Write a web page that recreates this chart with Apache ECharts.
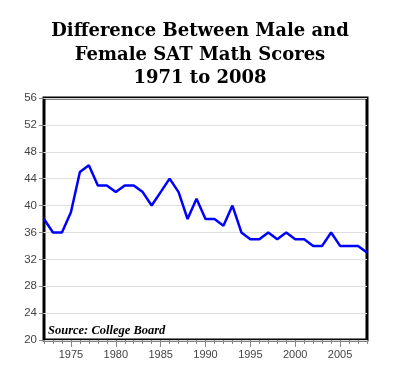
<!DOCTYPE html>
<html>
<head>
<meta charset="utf-8">
<script src="https://cdn.jsdelivr.net/npm/echarts@6/dist/echarts.min.js"></script>
<style>
html,body{margin:0;padding:0;background:#fff;}
#c{width:400px;height:383px;}
</style>
</head>
<body>
<div id="c"></div>
<script>
var years = [];
for (var y = 1972; y <= 2008; y++) years.push(String(y));
var scoreGap = [38,36,36,39,45,46,43,43,42,43,43,42,40,42,44,42,38,41,38,38,37,40,36,35,35,36,35,36,35,35,34,34,36,34,34,34,33];
var yMin = 20, yMax = 56, yStep = 4;
var titleText = 'Difference Between Male and\nFemale SAT Math Scores\n1971 to 2008';
var sourceText = 'Source: College Board';

var chart = echarts.init(document.getElementById('c'), null, {renderer: 'canvas'});
var isMajor = function (i, v) { return Number(v) % 5 === 0; };
chart.setOption({
  animation: false,
  backgroundColor: '#fff',
  title: {
    text: titleText,
    left: 'center',
    top: 15,
    textStyle: {
      fontFamily: 'DejaVu Serif',
      fontWeight: 'bold',
      fontSize: 18,
      lineHeight: 23.5,
      color: '#000'
    }
  },
  grid: {
    left: 44, right: 33, top: 98, bottom: 43,
    show: true, borderColor: '#000', borderWidth: 3, backgroundColor: 'transparent'
  },
  xAxis: [{
    type: 'category',
    data: years,
    boundaryGap: false,
    axisLine: {show: false},
    axisTick: {show: true, length: 7, interval: isMajor, lineStyle: {color: '#888'}},
    axisLabel: {interval: isMajor, color: '#444', fontFamily: 'Liberation Sans', fontSize: 11, margin: 9},
    splitLine: {show: false}
  }, {
    type: 'category',
    data: years,
    boundaryGap: false,
    position: 'bottom',
    axisLine: {show: false},
    axisTick: {show: true, length: 4, interval: 0, lineStyle: {color: '#888'}},
    axisLabel: {show: false},
    splitLine: {show: false}
  }],
  yAxis: {
    type: 'value',
    min: yMin, max: yMax, interval: yStep,
    axisLine: {show: false},
    axisTick: {show: true, length: 5, lineStyle: {color: '#888'}},
    axisLabel: {color: '#444', fontFamily: 'Liberation Sans', fontSize: 11.5, margin: 7},
    splitLine: {show: true, lineStyle: {color: '#ddd', width: 1}}
  },
  graphic: [{
    type: 'text',
    left: 48, top: 324,
    style: {
      text: sourceText,
      font: 'italic bold 12.5px "Liberation Serif"',
      fill: '#000'
    },
    z: 100
  }],
  series: [{
    type: 'line',
    xAxisIndex: 0,
    data: scoreGap,
    showSymbol: false,
    symbol: 'none',
    lineStyle: {color: '#0000ff', width: 2.5},
    z: 3
  }]
});
</script>
</body>
</html>
